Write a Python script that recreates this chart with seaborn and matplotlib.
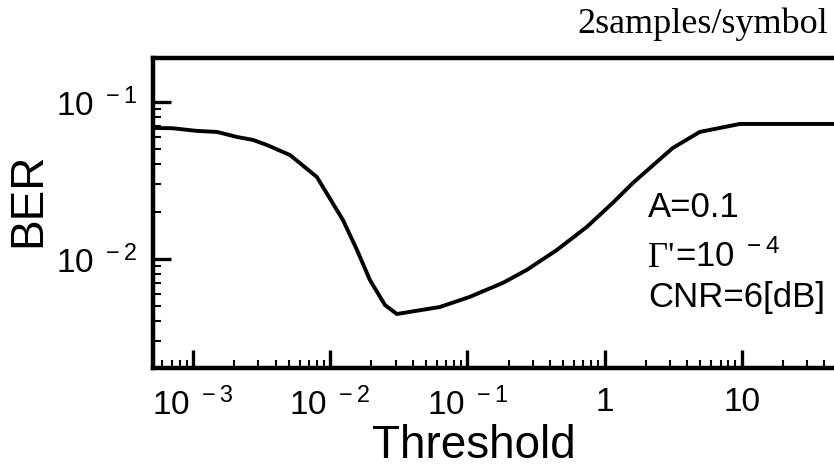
import matplotlib
matplotlib.use("Agg")
import matplotlib.pyplot as plt
import matplotlib.ticker as mticker
import seaborn as sns
import pandas as pd

# ---- data ----
threshold = [5.12e-4, 7.1e-4, 1.07e-3, 1.5e-3, 2.1e-3, 2.74e-3, 3.46e-3, 5.1e-3,
             8.0e-3, 1.24e-2, 1.57e-2, 1.95e-2, 2.51e-2, 3.06e-2, 6.3e-2, 1.04e-1,
             1.81e-1, 2.71e-1, 4.49e-1, 7.43e-1, 1.15, 1.61, 3.14, 4.94, 9.67, 46, 100]
ber = [0.0683, 0.068, 0.0654, 0.0644, 0.0598, 0.0573, 0.0532, 0.0459,
       0.0333, 0.0177, 0.0114, 0.00734, 0.00509, 0.00446, 0.00494, 0.00573,
       0.00703, 0.00851, 0.0114, 0.016, 0.0228, 0.0305, 0.0509, 0.0644, 0.0724, 0.0724, 0.0724]

xticks = [1e-3, 1e-2, 1e-1, 1, 10]
xticklabels = [r'$\mathregular{10^{\ -3}}$', r'$\mathregular{10^{\ -2}}$',
               r'$\mathregular{10^{\ -1}}$', '1', '10']
yticks = [1e-2, 1e-1]
yticklabels = [r'$\mathregular{10^{\ -2}}$', r'$\mathregular{10^{\ -1}}$']

df = pd.DataFrame({"Threshold": threshold, "BER": ber})

sns.set_style("ticks")
plt.rcParams['font.family'] = ['Liberation Sans', 'DejaVu Sans']
plt.rcParams['text.color'] = 'black'
plt.rcParams['axes.labelcolor'] = 'black'
plt.rcParams['xtick.color'] = 'black'
plt.rcParams['ytick.color'] = 'black'

W, H = 834, 468
fig = plt.figure(figsize=(W / 100, H / 100), dpi=100)
ax = fig.add_axes([153 / W, (H - 368) / H, (879 - 153) / W, (368 - 58) / H])
ax.set_xscale('log')
ax.set_yscale('log')

sns.lineplot(data=df, x="Threshold", y="BER", ax=ax, color='black',
             linewidth=2.8, estimator=None, sort=False)

ax.set_xlim(5.12e-4, 100)
ax.set_ylim(0.00202, 0.1905)

for s in ax.spines.values():
    s.set_linewidth(3.2)
    s.set_color('black')

ax.set_xticks(xticks)
ax.set_xticklabels(xticklabels)
ax.set_yticks(yticks)
ax.set_yticklabels(yticklabels)
ax.xaxis.set_minor_locator(mticker.LogLocator(base=10, subs=range(2, 10), numticks=20))
ax.yaxis.set_minor_locator(mticker.LogLocator(base=10, subs=range(2, 10), numticks=20))
ax.xaxis.set_minor_formatter(mticker.NullFormatter())
ax.yaxis.set_minor_formatter(mticker.NullFormatter())

ax.tick_params(axis='both', which='major', direction='in', length=13, width=2.4,
               labelsize=24, colors='black')
ax.tick_params(axis='both', which='minor', direction='in', length=6, width=1.5, colors='black')
ax.tick_params(axis='x', which='major', pad=14)
ax.tick_params(axis='y', which='major', pad=11)
ax.tick_params(top=False, right=False, which='both')

ax.set_xlabel('Threshold', fontsize=33, color='black')
ax.set_ylabel('BER', fontsize=33, color='black')
ax.xaxis.set_label_coords((474 - 153) / 726, (368 - 446) / 310)
ax.xaxis.label.set_va('center')
ax.yaxis.set_label_coords((28 - 153) / 726, (368 - 200) / 310)
ax.yaxis.label.set_va('center')

# annotations
fig.text(828 / W, 1 - 33 / H, '2samples/symbol', family='Liberation Serif',
         fontsize=26, ha='right', va='baseline', color='black')
fig.text(648 / W, 1 - 217 / H, 'A=0.1', fontsize=25, ha='left', va='baseline', color='black')
g = fig.text(648 / W, 1 - 267 / H, "\u0393'", family='Liberation Serif', fontsize=25,
             ha='left', va='baseline', color='black')
fig.canvas.draw()
gx1 = g.get_window_extent().x1
fig.text((gx1 + 1) / W, 1 - 267 / H, r'=10$\mathregular{^{\ -4}}$', fontsize=25,
         ha='left', va='baseline', color='black')
fig.text(648 / W, 1 - 307 / H, 'CNR=6[dB]', fontsize=25, ha='left', va='baseline', color='black')

fig.savefig('out.png', dpi=100)
